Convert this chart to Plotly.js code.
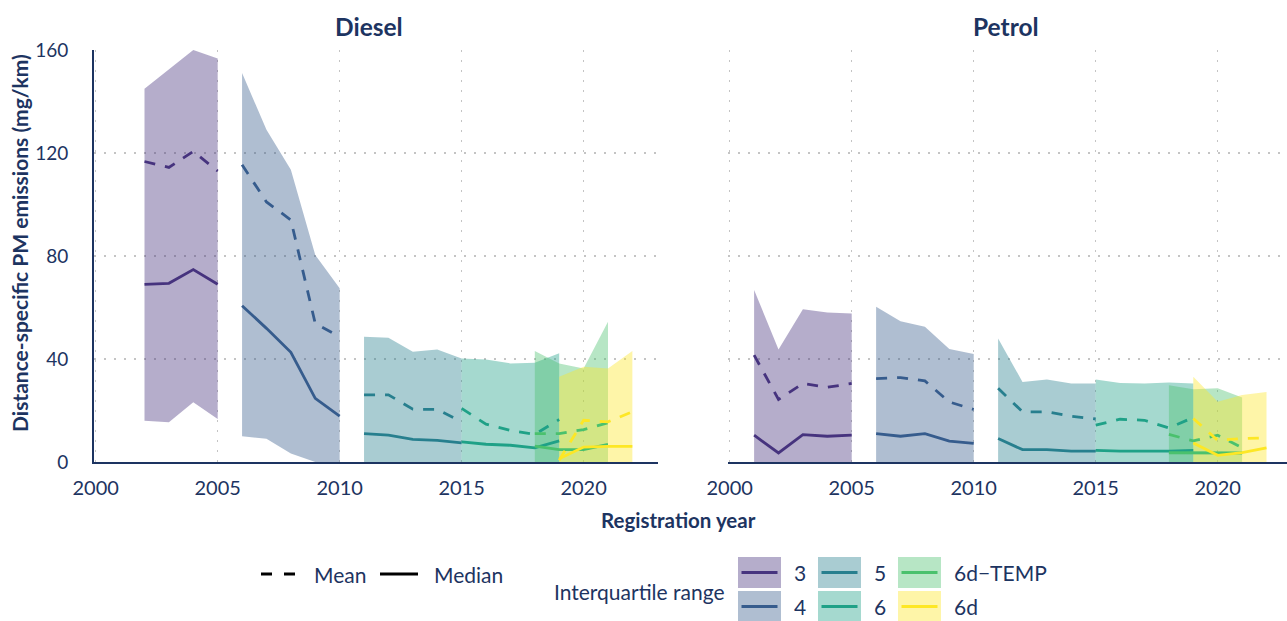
<!DOCTYPE html>
<html>
<head>
<meta charset="utf-8">
<script src="https://cdn.plot.ly/plotly-3.0.1.min.js"></script>
<style>html,body{margin:0;padding:0;background:#fff;}#chart{width:1287px;height:621px;}</style>
</head>
<body>
<div id="chart"></div>
<script>
// ---------------- DATA ----------------
const tickYears = [2000, 2005, 2010, 2015, 2020];
const tickValuesY = [0, 40, 80, 120, 160];
const euroLabels = ['3', '4', '5', '6', '6d\u2212TEMP', '6d'];
const euroColors = ['#46337E', '#365C8D', '#277F8E', '#1FA187', '#4AC16D', '#FDE725'];

// Diesel
const dieselE3Years = [2002, 2003, 2004, 2005];
const dieselE3Upper = [145, 152.5, 160, 156.7];
const dieselE3Lower = [16, 15.4, 23.2, 16.7];
const dieselE3Mean = [116.7, 114.4, 120.6, 113];
const dieselE3Median = [69, 69.4, 74.7, 69];

const dieselE4Years = [2006, 2007, 2008, 2009, 2010];
const dieselE4Upper = [151.1, 129, 113.5, 80.4, 67.5];
const dieselE4Lower = [10, 9, 3.3, 0, 0];
const dieselE4Mean = [115.4, 101, 94, 53.8, 48.6];
const dieselE4Median = [60.7, 51.9, 42.6, 24.7, 17.8];

const dieselE5Years = [2011, 2012, 2013, 2014, 2015];
const dieselE5Upper = [48.6, 48.3, 42.8, 43.7, 40.2];
const dieselE5Lower = [0, 0, 0, 0, 0];
const dieselE5Mean = [26.1, 26.1, 20.5, 20.4, 15.6];
const dieselE5Median = [11, 10.4, 8.8, 8.4, 7.4];

const dieselE6Years = [2015, 2016, 2017, 2018, 2019];
const dieselE6Upper = [40.2, 39.8, 38.3, 38.5, 42.2];
const dieselE6Lower = [0, 0, 0, 0, 0];
const dieselE6Mean = [20.8, 14.7, 12.3, 10.7, 16.5];
const dieselE6Median = [7.8, 6.9, 6.5, 5.5, 8.2];

const dieselE6dTempYears = [2018, 2019, 2020, 2021];
const dieselE6dTempUpper = [43.1, 38.3, 36.3, 54.5];
const dieselE6dTempLower = [0, 0, 0, 0];
const dieselE6dTempMean = [11, 11, 12.6, 15.2];
const dieselE6dTempMedian = [6.2, 4.8, 4.8, 6.8];

const dieselE6dYears = [2019, 2020, 2021, 2022];
const dieselE6dUpper = [33.1, 37, 36.3, 43.1];
const dieselE6dLower = [0, 0, 0, 0];
const dieselE6dMean = [0.7, 16.2, 15.6, 19.5];
const dieselE6dMedian = [1.3, 5.8, 6.1, 6.1];

// Petrol
const petrolE3Years = [2001, 2002, 2003, 2004, 2005];
const petrolE3Upper = [66.8, 43.7, 59.3, 58.1, 57.7];
const petrolE3Lower = [0, 0, 0, 0, 0];
const petrolE3Mean = [41.5, 24.3, 30.5, 29, 30.5];
const petrolE3Median = [10.4, 3.5, 10.6, 10, 10.4];

const petrolE4Years = [2006, 2007, 2008, 2009, 2010];
const petrolE4Upper = [60.3, 54.7, 52.5, 43.9, 41.9];
const petrolE4Lower = [0, 0, 0, 0, 0];
const petrolE4Mean = [32.4, 32.8, 31.5, 23.3, 20.4];
const petrolE4Median = [11, 10, 11, 8.1, 7.2];

const petrolE5Years = [2011, 2012, 2013, 2014, 2015];
const petrolE5Upper = [48, 31.1, 32, 30.5, 30.5];
const petrolE5Lower = [0, 0, 0, 0, 0];
const petrolE5Mean = [28.6, 19.5, 19.5, 17.8, 16.7];
const petrolE5Median = [9.1, 4.8, 4.8, 4.2, 4.2];

const petrolE6Years = [2015, 2016, 2017, 2018, 2019];
const petrolE6Upper = [32, 30.7, 30.5, 30.9, 30.5];
const petrolE6Lower = [0, 0, 0, 0, 0];
const petrolE6Mean = [14.3, 16.6, 16.2, 13.2, 17.3];
const petrolE6Median = [4.5, 4.2, 4.2, 4.2, 4.5];

const petrolE6dTempYears = [2018, 2019, 2020, 2021];
const petrolE6dTempUpper = [29.8, 28.3, 28.6, 25];
const petrolE6dTempLower = [0, 0, 0, 0];
const petrolE6dTempMean = [10.7, 8.2, 10.4, 5.5];
const petrolE6dTempMedian = [3.6, 3.6, 3.6, 3.5];

const petrolE6dYears = [2019, 2020, 2021, 2022];
const petrolE6dUpper = [33.1, 23.4, 26, 27.2];
const petrolE6dLower = [0, 0, 0, 0];
const petrolE6dMean = [16.9, 8.4, 9.1, 9.4];
const petrolE6dMedian = [7.4, 2.6, 3.6, 5.5];

// ---------------- BUILD ----------------
const W = 1287, H = 621;
const NAVY = '#1d3461';
const FONT = 'Lato, "Open Sans", sans-serif';
const px = x => x / W;
const py = y => 1 - y / H;

function rgba(hex, a) {
  const r = parseInt(hex.slice(1, 3), 16), g = parseInt(hex.slice(3, 5), 16), b = parseInt(hex.slice(5, 7), 16);
  return `rgba(${r},${g},${b},${a})`;
}

const dieselGroups = [
  [dieselE3Years, dieselE3Upper, dieselE3Lower, dieselE3Mean, dieselE3Median],
  [dieselE4Years, dieselE4Upper, dieselE4Lower, dieselE4Mean, dieselE4Median],
  [dieselE5Years, dieselE5Upper, dieselE5Lower, dieselE5Mean, dieselE5Median],
  [dieselE6Years, dieselE6Upper, dieselE6Lower, dieselE6Mean, dieselE6Median],
  [dieselE6dTempYears, dieselE6dTempUpper, dieselE6dTempLower, dieselE6dTempMean, dieselE6dTempMedian],
  [dieselE6dYears, dieselE6dUpper, dieselE6dLower, dieselE6dMean, dieselE6dMedian]
];
const petrolGroups = [
  [petrolE3Years, petrolE3Upper, petrolE3Lower, petrolE3Mean, petrolE3Median],
  [petrolE4Years, petrolE4Upper, petrolE4Lower, petrolE4Mean, petrolE4Median],
  [petrolE5Years, petrolE5Upper, petrolE5Lower, petrolE5Mean, petrolE5Median],
  [petrolE6Years, petrolE6Upper, petrolE6Lower, petrolE6Mean, petrolE6Median],
  [petrolE6dTempYears, petrolE6dTempUpper, petrolE6dTempLower, petrolE6dTempMean, petrolE6dTempMedian],
  [petrolE6dYears, petrolE6dUpper, petrolE6dLower, petrolE6dMean, petrolE6dMedian]
];

const traces = [];
function addPanel(groups, xa, ya) {
  groups.forEach((g, i) => {
    const [yrs, up, lo] = g;
    traces.push({
      type: 'scatter', mode: 'lines', xaxis: xa, yaxis: ya,
      x: yrs.concat(yrs.slice().reverse()),
      y: up.concat(lo.slice().reverse()),
      fill: 'toself', fillcolor: rgba(euroColors[i], 0.4),
      line: {width: 0, color: rgba(euroColors[i], 0)},
      hoverinfo: 'skip', showlegend: false, name: 'Euro ' + euroLabels[i]
    });
  });
  groups.forEach((g, i) => {
    const [yrs, , , mean, med] = g;
    traces.push({
      type: 'scatter', mode: 'lines', xaxis: xa, yaxis: ya, x: yrs, y: mean,
      line: {color: euroColors[i], width: 2.8, dash: '11px,10px'},
      showlegend: false, name: 'Mean ' + euroLabels[i]
    });
    traces.push({
      type: 'scatter', mode: 'lines', xaxis: xa, yaxis: ya, x: yrs, y: med,
      line: {color: euroColors[i], width: 2.8},
      showlegend: false, name: 'Median ' + euroLabels[i]
    });
  });
}
addPanel(dieselGroups, 'x', 'y');
addPanel(petrolGroups, 'x2', 'y2');

const gridCommon = {
  showgrid: true, gridcolor: '#c4c4c4', gridwidth: 1.4, griddash: '2px,8px',
  zeroline: false, fixedrange: true
};
const xCommon = Object.assign({}, gridCommon, {
  tickmode: 'array', tickvals: tickYears, ticktext: tickYears.map(String),
  showline: true, linecolor: NAVY, linewidth: 2,
  ticks: 'outside', ticklen: 7, tickcolor: 'rgba(0,0,0,0)',
  tickfont: {family: FONT, size: 20, color: NAVY}
});

const shapes = [];
const annotations = [];
const LEG = 21;

// panel titles
annotations.push({xref: 'paper', yref: 'paper', x: px(369), y: py(27), text: '<b>Diesel</b>', showarrow: false,
  font: {family: FONT, size: 24.5, color: NAVY}, xanchor: 'center', yanchor: 'middle'});
annotations.push({xref: 'paper', yref: 'paper', x: px(1006), y: py(27), text: '<b>Petrol</b>', showarrow: false,
  font: {family: FONT, size: 24.5, color: NAVY}, xanchor: 'center', yanchor: 'middle'});
// axis titles
annotations.push({xref: 'paper', yref: 'paper', x: px(678), y: py(520), text: '<b>Registration year</b>', showarrow: false,
  font: {family: FONT, size: 20.5, color: NAVY}, xanchor: 'center', yanchor: 'middle'});
annotations.push({xref: 'paper', yref: 'paper', x: px(20), y: py(243), text: '<b>Distance-specific PM emissions (mg/km)</b>', showarrow: false,
  textangle: -90, font: {family: FONT, size: 21, color: NAVY}, xanchor: 'center', yanchor: 'middle'});

// legend: mean / median
shapes.push({type: 'line', xref: 'paper', yref: 'paper', x0: px(261), x1: px(296), y0: py(574), y1: py(574),
  line: {color: '#000', width: 3, dash: '11px,12px'}});
annotations.push({xref: 'paper', yref: 'paper', x: px(312), y: py(574), text: 'Mean', showarrow: false,
  font: {family: FONT, size: LEG, color: NAVY}, xanchor: 'left', yanchor: 'middle'});
shapes.push({type: 'line', xref: 'paper', yref: 'paper', x0: px(380), x1: px(418), y0: py(574), y1: py(574),
  line: {color: '#000', width: 3}});
annotations.push({xref: 'paper', yref: 'paper', x: px(432), y: py(574), text: 'Median', showarrow: false,
  font: {family: FONT, size: LEG, color: NAVY}, xanchor: 'left', yanchor: 'middle'});

// legend: interquartile range
annotations.push({xref: 'paper', yref: 'paper', x: px(726), y: py(591), text: 'Interquartile range', showarrow: false,
  font: {family: FONT, size: LEG, color: NAVY}, xanchor: 'right', yanchor: 'middle'});
const colX = [738, 818, 898];
const rowY = [557, 591];
euroLabels.forEach((lab, i) => {
  const c = Math.floor(i / 2), r = i % 2;
  const x0 = colX[c], x1 = x0 + 43, y0 = rowY[r], y1 = y0 + 31;
  shapes.push({type: 'rect', xref: 'paper', yref: 'paper', x0: px(x0), x1: px(x1), y0: py(y1), y1: py(y0),
    fillcolor: rgba(euroColors[i], 0.4), line: {width: 0}});
  shapes.push({type: 'line', xref: 'paper', yref: 'paper', x0: px(x0 + 3.5), x1: px(x1 - 3.5), y0: py((y0 + y1) / 2), y1: py((y0 + y1) / 2),
    line: {color: euroColors[i], width: 3}});
  annotations.push({xref: 'paper', yref: 'paper', x: px(x1 + 11), y: py((y0 + y1) / 2), text: lab, showarrow: false,
    font: {family: FONT, size: LEG, color: NAVY}, xanchor: 'left', yanchor: 'middle'});
});

const layout = {
  width: W, height: H,
  margin: {l: 0, r: 0, t: 0, b: 0, pad: 0},
  paper_bgcolor: '#fff', plot_bgcolor: 'rgba(0,0,0,0)',
  showlegend: false,
  xaxis: Object.assign({}, xCommon, {domain: [px(94), px(657.5)], range: [1999.93, 2023.03], anchor: 'y'}),
  xaxis2: Object.assign({}, xCommon, {domain: [px(728), 1], range: [1999.93, 2022.84], anchor: 'y2'}),
  yaxis: Object.assign({}, gridCommon, {
    domain: [py(462), py(50)], range: [0, 160], anchor: 'x',
    tickmode: 'array', tickvals: tickValuesY,
    showline: true, linecolor: NAVY, linewidth: 2,
    ticks: 'outside', ticklen: 20, tickcolor: 'rgba(0,0,0,0)',
    tickfont: {family: FONT, size: 19, color: NAVY}
  }),
  yaxis2: Object.assign({}, gridCommon, {
    domain: [py(462), py(50)], range: [0, 160], anchor: 'x2',
    tickmode: 'array', tickvals: tickValuesY, showticklabels: false,
    showline: false, ticks: ''
  }),
  shapes: shapes,
  annotations: annotations
};

Plotly.newPlot('chart', traces, layout, {displayModeBar: false, staticPlot: true});
</script>
</body>
</html>
